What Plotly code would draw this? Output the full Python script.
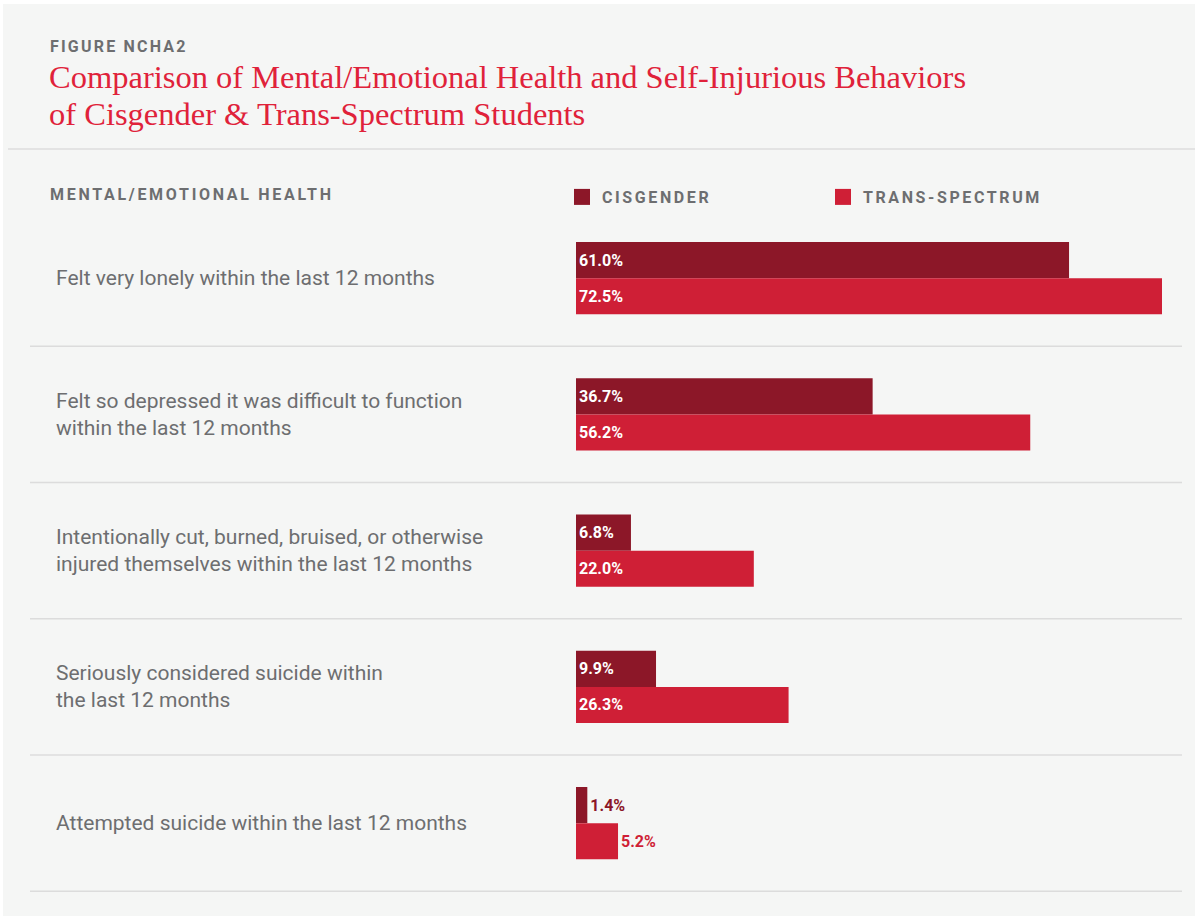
import plotly.graph_objects as go

categories = [
    "Felt very lonely within the last 12 months",
    "Felt so depressed it was difficult to function<br>within the last 12 months",
    "Intentionally cut, burned, bruised, or otherwise<br>injured themselves within the last 12 months",
    "Seriously considered suicide within<br>the last 12 months",
    "Attempted suicide within the last 12 months",
]
cisgender = [61.0, 36.7, 6.8, 9.9, 1.4]
trans_spectrum = [72.5, 56.2, 22.0, 26.3, 5.2]
series_names = ["CISGENDER", "TRANS-SPECTRUM"]
title_lines = [
    "Comparison of Mental/Emotional Health and Self-Injurious Behaviors",
    "of Cisgender &amp; Trans-Spectrum Students",
]

W, H = 1195, 920
CIS_COLOR = "#8c1728"
TRANS_COLOR = "#cf1f36"
GRAY = "#6d6e70"
BG = "#f5f6f5"
FONT = "Roboto"


def px_x(p):
    return p / W


def px_y(p):
    return 1 - p / H


def fmt(v):
    return f"{v:.1f}%"


def positions(vals, threshold=5.5):
    return ["inside" if v >= threshold else "outside" for v in vals]


def spaced(t, sp):
    return f"<span style='letter-spacing:{sp}px'><b>{t}</b></span>"


fig = go.Figure()
for name, vals, color in [(series_names[0], cisgender, CIS_COLOR),
                          (series_names[1], trans_spectrum, TRANS_COLOR)]:
    fig.add_trace(go.Bar(
        y=categories, x=vals, orientation="h", name=name, legendgroup=name,
        showlegend=False,
        marker=dict(color=color, line=dict(width=0)),
        text=[fmt(v) for v in vals],
        textposition=positions(vals),
        insidetextanchor="start",
        constraintext="none",
        insidetextfont=dict(color="white", size=16, family=FONT, weight="bold"),
        outsidetextfont=dict(color=color, size=16, family=FONT, weight="bold"),
        cliponaxis=False,
        hoverinfo="skip",
    ))
# legend entries with larger square swatches
for name, color in [(series_names[0], CIS_COLOR), (series_names[1], TRANS_COLOR)]:
    fig.add_trace(go.Scatter(
        x=[None], y=[None], mode="markers", name=spaced(name, 2.6), legendgroup=name,
        marker=dict(symbol="square", size=20, color=color, line=dict(width=0)),
        hoverinfo="skip",
    ))

shapes = [
    dict(type="rect", xref="paper", yref="paper", x0=px_x(3), x1=1, y0=px_y(916), y1=px_y(4),
         fillcolor=BG, line=dict(width=0), layer="below"),
    dict(type="line", xref="paper", yref="paper", x0=px_x(8), x1=1, y0=px_y(149), y1=px_y(149),
         line=dict(color="#dcdcdc", width=1.5)),
]
for i in range(len(categories)):
    shapes.append(dict(type="line", xref="paper", yref="y", x0=px_x(30), x1=px_x(1182),
                       y0=i + 0.5, y1=i + 0.5, line=dict(color="#dcdcdc", width=1.5)))

annotations = [
    dict(text=spaced("FIGURE NCHA2", 2.2), xref="paper", yref="paper",
         x=px_x(48), y=px_y(46), xanchor="left", yanchor="middle", showarrow=False,
         font=dict(family=FONT, size=16, color=GRAY)),
    dict(text=spaced("MENTAL/EMOTIONAL HEALTH", 2.7), xref="paper", yref="paper",
         x=px_x(48), y=px_y(195), xanchor="left", yanchor="middle", showarrow=False,
         font=dict(family=FONT, size=16, color=GRAY)),
]
for line, yc in zip(title_lines, [77, 114]):
    annotations.append(dict(text=line, xref="paper", yref="paper", x=px_x(47), y=px_y(yc),
                            xanchor="left", yanchor="middle", align="left", showarrow=False,
                            font=dict(family="Liberation Serif", size=32.5, color="#e0223a")))
for c in categories:
    annotations.append(dict(text=c, xref="paper", yref="y", x=px_x(54), y=c,
                            xanchor="left", yanchor="middle", align="left", showarrow=False,
                            font=dict(family=FONT, size=21, color=GRAY)))

fig.update_layout(
    width=W, height=H,
    margin=dict(l=0, r=0, t=0, b=0),
    paper_bgcolor="white", plot_bgcolor="rgba(0,0,0,0)",
    barmode="group", bargap=0.47, bargroupgap=0,
    xaxis=dict(domain=[px_x(576), px_x(1162)], range=[0, 72.5], visible=False, fixedrange=True),
    yaxis=dict(domain=[px_y(892), px_y(210)], autorange="reversed", visible=False,
               categoryorder="array", categoryarray=categories),
    legend=dict(orientation="h", x=px_x(562), y=px_y(197), xanchor="left", yanchor="middle",
                entrywidth=216, entrywidthmode="pixels", bgcolor="rgba(0,0,0,0)",
                font=dict(family=FONT, size=16, color=GRAY),
                itemclick=False, itemdoubleclick=False),
    shapes=shapes, annotations=annotations,
    showlegend=True,
)

fig.write_html("out.html", config={"displayModeBar": False},
               post_script="document.body.style.margin='0px';")
